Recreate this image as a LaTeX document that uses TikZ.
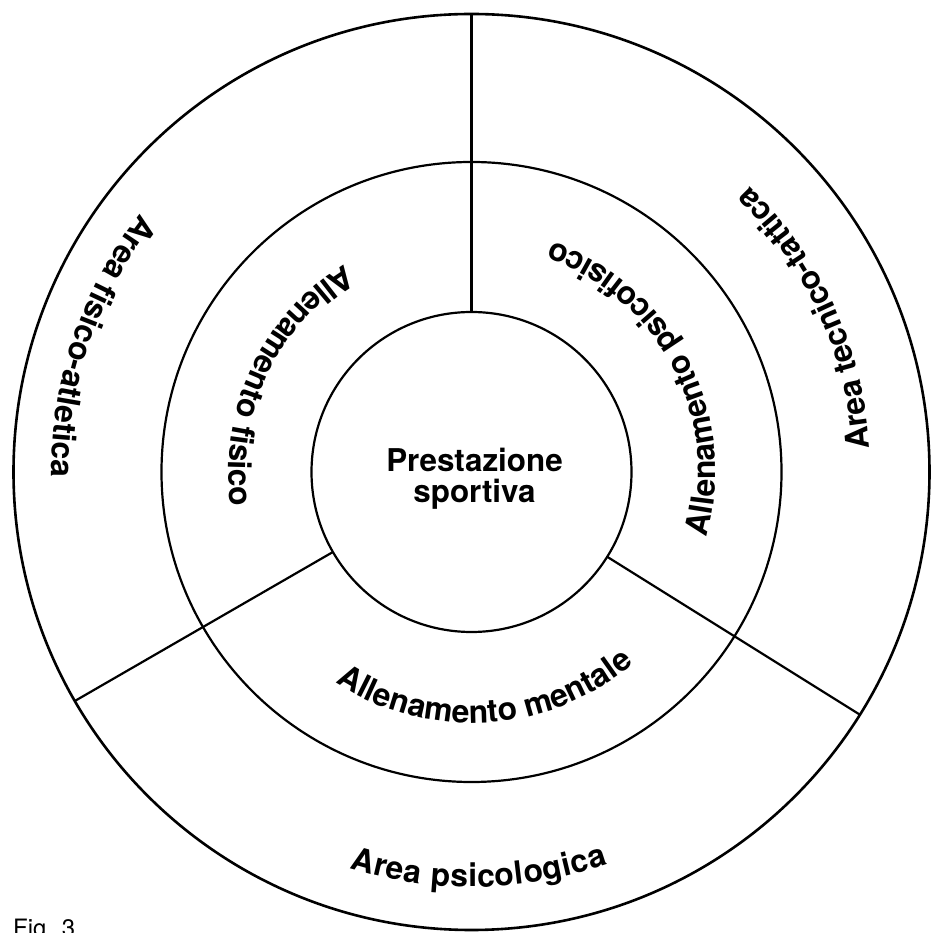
\documentclass[tikz,border=0pt]{standalone}
\usepackage{fontspec}
\setmainfont{TeX Gyre Heros}
\usetikzlibrary{decorations.text}
\newcommand\lblfont{\bfseries\fontsize{32}{32}\selectfont}
\begin{document}
\begin{tikzpicture}[x=1bp,y=1bp,
  ring/.style={circle, draw, line width=2.2bp, inner sep=0pt, outer sep=0pt},
  divider/.style={line width=2.2bp},
  arctext/.style={decorate, decoration={text along path, text align={fit to path}, text={|\lblfont|#1}}}]
\useasboundingbox (0,0) rectangle (938,933);
\coordinate (C) at (471.5,461);
% circles
\node[ring, line width=2.6bp, minimum size=916bp] (outer) at (C) {};
\node[ring, minimum size=620bp] (middle) at (C) {};
\node[ring, minimum size=320bp] (inner) at (C) {};
% dividers
\draw[divider] (inner.90) -- (outer.90);
\draw[divider] (inner.210) -- (outer.210);
\draw[divider] (inner.328) -- (outer.328);
% centre text
\node[align=center, font=\bfseries\fontsize{31.5}{31}\selectfont, inner sep=0pt] (core) at (474.5,454) {Prestazione\\sportiva};
% curved labels (counterclockwise arcs, baseline on arc)
\path[shift={(C)}, arctext={Area fisico-atletica}] (142:420) arc[start angle=142, end angle=180, radius=420];
\path[shift={(C)}, arctext={Allenamento fisico}] (121.4:243) arc[start angle=121.4, end angle=187, radius=243];
\path[shift={(C)}, arctext={Allenamento psicofisico}] (-15.6:244) arc[start angle=-15.6, end angle=68.8, radius=244];
\path[shift={(C)}, arctext={Area tecnico-tattica}] (3.4:399) arc[start angle=3.4, end angle=45.2, radius=399];
\path[shift={(C)}, arctext={Allenamento mentale}] (237.1:251) arc[start angle=237.1, end angle=308.9, radius=251];
\path[shift={(C)}, arctext={Area psicologica}] (252.9:415) arc[start angle=252.9, end angle=289.2, radius=415];
% figure caption (cut by the page edge, as in the reference)
\node[anchor=base west, font=\fontsize{24}{24}\selectfont, inner sep=0pt] (fig) at (13,-4) {Fig. 3};
\end{tikzpicture}
\end{document}
